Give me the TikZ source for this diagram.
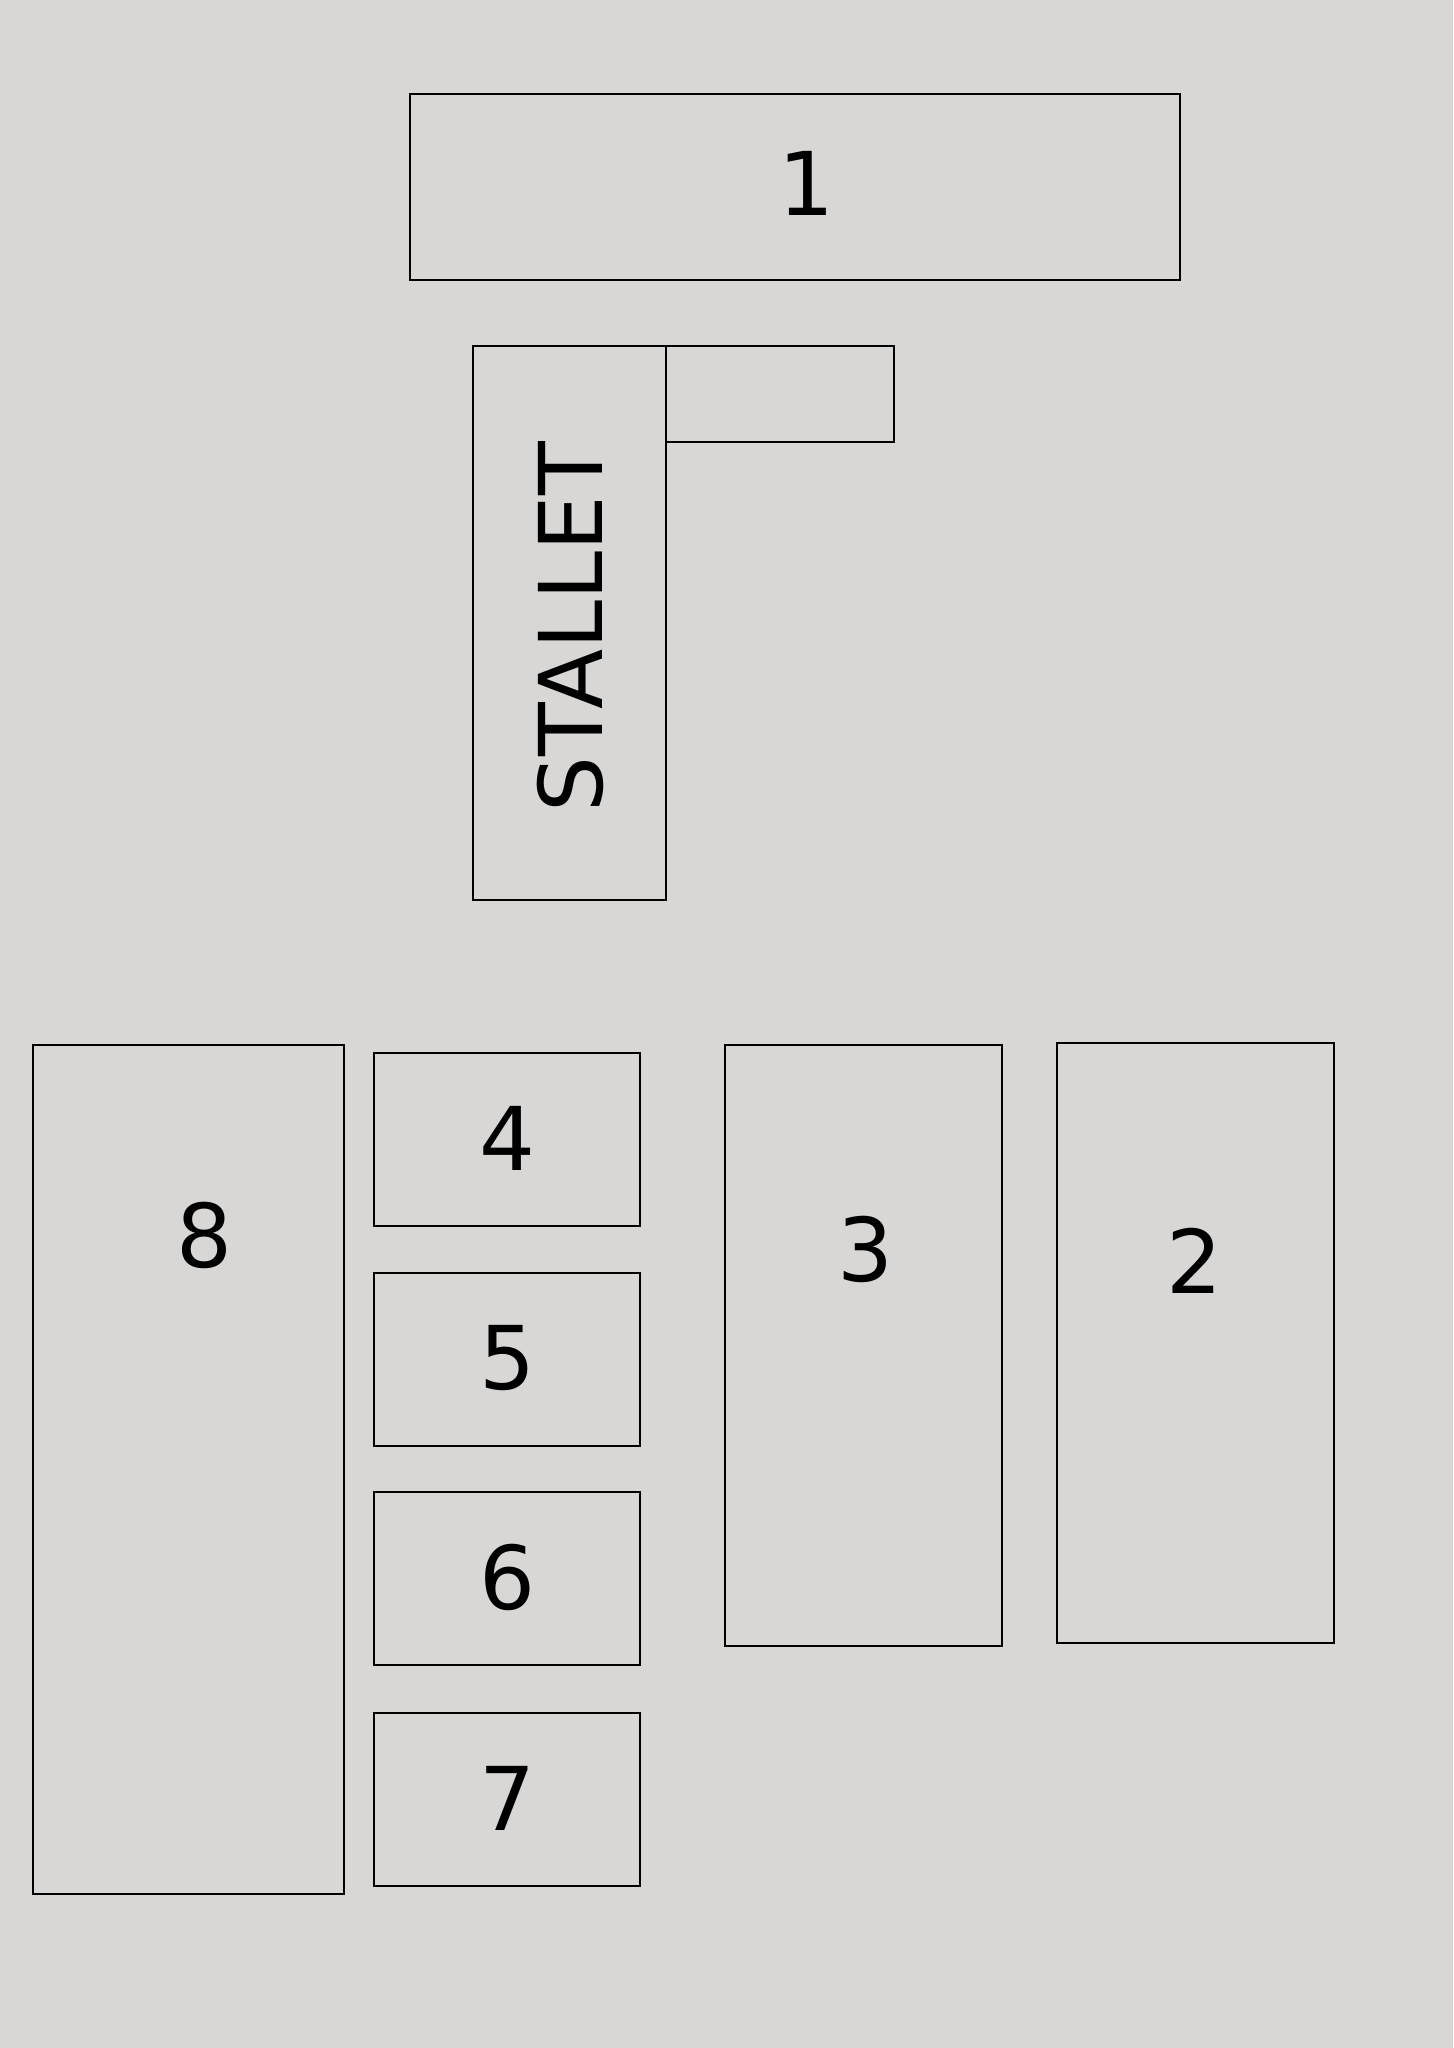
\documentclass[tikz,border=0pt]{standalone}
\usepackage{fontspec}
\setmainfont{DejaVu Sans}
\usetikzlibrary{positioning}
\definecolor{floorgray}{RGB}{216,215,213}

\begin{document}
\begin{tikzpicture}[
    x=0.5pt, y=-0.5pt,
    room/.style={draw, line width=1.25pt},
    lbl/.style={font=\fontsize{44}{53}\selectfont, inner sep=0pt, anchor=center},
]

% Background
\fill[floorgray] (0,0) rectangle (1453,2048);
\useasboundingbox (0,0) rectangle (1453,2048);

% Top rooms
\draw[room] (410,94) rectangle (1180,280);
\node[lbl] (r1) at (806,183) {1};

\draw[room] (473,346) rectangle (666,900);
\node[lbl, rotate=90] (stallet) at (570,627) {STALLET};
\draw[room] (666,346) rectangle (894,442);

% Left column
\draw[room] (33,1045) rectangle (344,1894);
\node[lbl] (r8) at (204,1235) {8};

% Middle stack
\foreach \y/\n in {1053/4, 1273/5, 1492/6, 1713/7} {
    \draw[room] (374,\y) rectangle (640,\y+173);
    \node[lbl] (r\n) at (507,\y+85) {\n};
}

% Right rooms
\draw[room] (725,1045) rectangle (1002,1646);
\node[lbl] (r3) at (865,1249) {3};

\draw[room] (1057,1043) rectangle (1334,1643);
\node[lbl] (r2) at (1194,1261) {2};

\end{tikzpicture}
\end{document}
